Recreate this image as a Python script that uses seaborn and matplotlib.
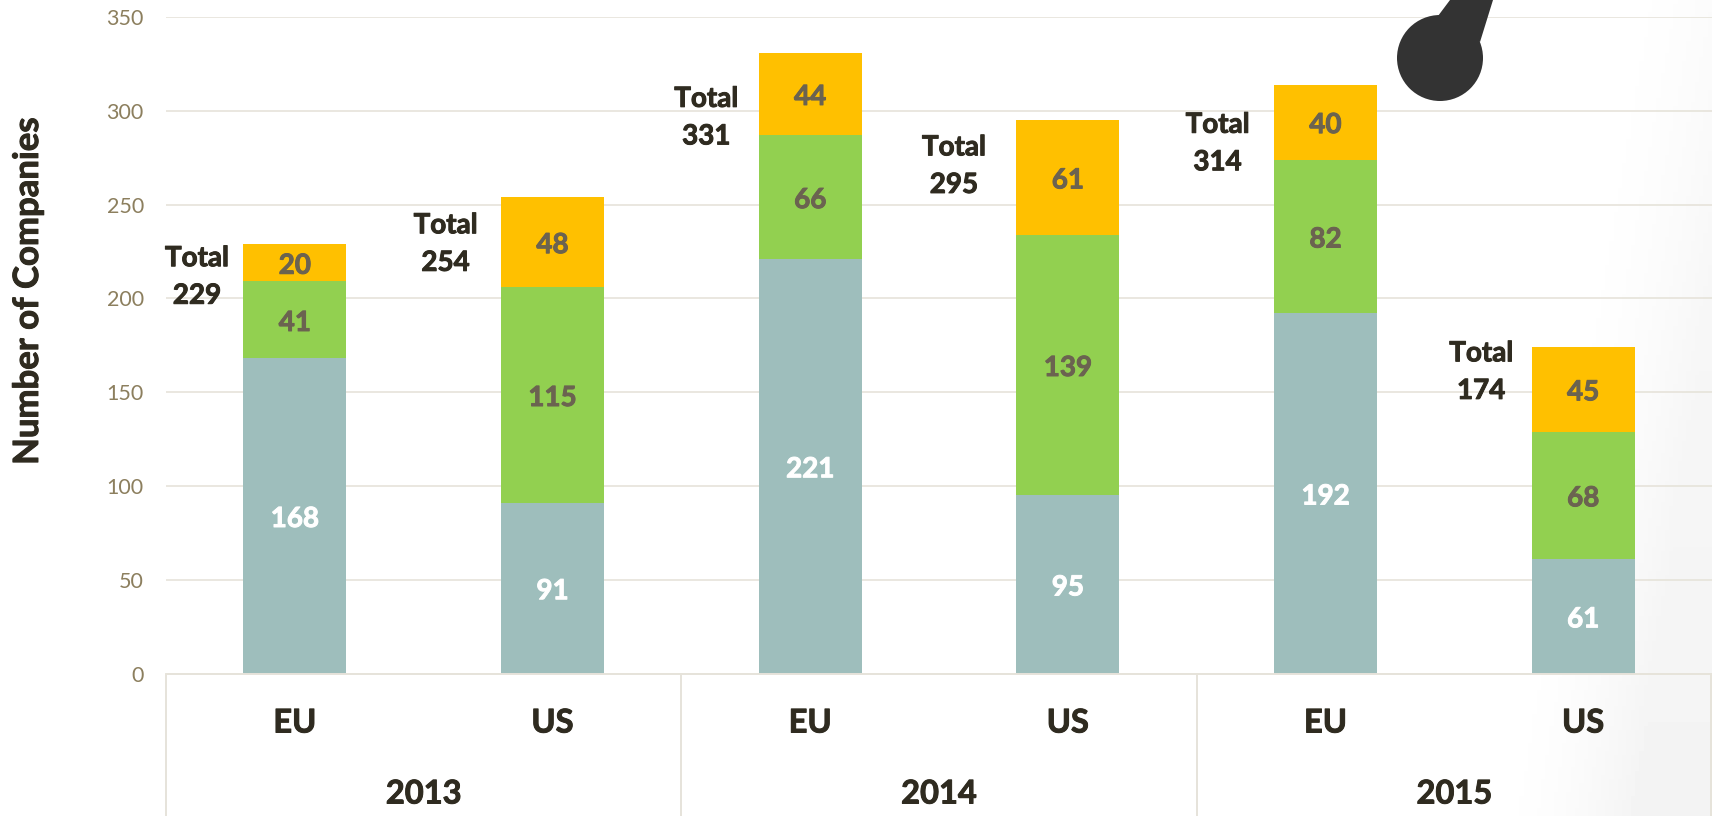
import numpy as np
import pandas as pd
import matplotlib
matplotlib.use("Agg")
import matplotlib.pyplot as plt
import matplotlib.patheffects as pe
from matplotlib.patches import Circle, Polygon
from matplotlib.transforms import Affine2D
import seaborn as sns

# ---- data ----
years = ["2013", "2014", "2015"]
regions = ["EU", "US", "EU", "US", "EU", "US"]
group_ids = ["2013 EU", "2013 US", "2014 EU", "2014 US", "2015 EU", "2015 US"]
seg_bottom = [168, 91, 221, 95, 192, 61]
seg_middle = [41, 115, 66, 139, 82, 68]
seg_top = [20, 48, 44, 61, 40, 45]
totals = [229, 254, 331, 295, 314, 174]
y_ticks = [0, 50, 100, 150, 200, 250, 300, 350]

# ---- layout of the hand-placed "Total" boxes (offset from bar centre / top) ----
total_dx_px = [-98, -107, -104, -114, -108, -102]
total_dy_px = [33, 47, 65, 46, 59, 25]

W, H = 1712, 816
LEFT, TOP, BOTTOM = 166, 17, 673.5

C_TEAL, C_GREEN, C_GOLD = "#9EBEBC", "#92D050", "#FFC000"
C_GRID, C_TICK, C_DARK, C_MUTED = "#E6E3DA", "#8C7F5E", "#2F2B20", "#6B6350"

sns.set_theme(style="white")
plt.rcParams["font.family"] = ["Lato", "DejaVu Sans"]

fig = plt.figure(figsize=(W / 100, H / 100), dpi=100, facecolor="white")


def heavy(color, w=0.7):
    return [pe.withStroke(linewidth=w, foreground=color)]


# faint grey vignette at the right edge of the slide
bg = fig.add_axes([0, 0, 1, 1], zorder=0)
yy, xx = np.mgrid[0:1:200j, 0:1:400j]
shade = np.clip((xx - 0.935 + 0.07 * yy) / 0.09, 0, 1) ** 1.8 * (0.6 + 0.4 * yy)
bg.imshow(1 - 0.045 * shade, cmap="gray", vmin=0, vmax=1, aspect="auto", extent=(0, 1, 0, 1), origin="upper")
bg.axis("off")

ax = fig.add_axes([LEFT / W, 1 - BOTTOM / H, (W - LEFT) / W, (BOTTOM - TOP) / H], zorder=1)
ax.patch.set_alpha(0)

df = pd.DataFrame({"group": group_ids, "low": seg_bottom, "mid": seg_middle, "top": seg_top})
df["b_mid"] = df["low"]
df["b_top"] = df["low"] + df["mid"]

bar_kw = dict(data=df, x="group", saturation=1, width=0.4, ax=ax, zorder=3, linewidth=0, edgecolor="none")
sns.barplot(y="low", color=C_TEAL, **bar_kw)
sns.barplot(y="mid", bottom=df["b_mid"].to_numpy(), color=C_GREEN, **bar_kw)
sns.barplot(y="top", bottom=df["b_top"].to_numpy(), color=C_GOLD, **bar_kw)

ax.set_xlim(-0.5, 5.5)
ax.set_ylim(0, 350)
ax.set_yticks(y_ticks)
ax.set_xticks([])
ax.set_xlabel("")
ax.set_ylabel("")
ax.tick_params(axis="y", length=0, pad=16, labelsize=15.5, labelcolor=C_TICK)
ax.yaxis.grid(True, color=C_GRID, linewidth=1.2, zorder=0)
ax.set_axisbelow(True)
for s in ax.spines.values():
    s.set_visible(False)

# segment labels
lab_kw = dict(ha="center", va="center", fontsize=20, fontweight="bold", zorder=5)
nudge = dict(xytext=(0, -2.2), textcoords="offset points")
for i in range(6):
    ax.annotate(str(seg_bottom[i]), xy=(i, seg_bottom[i] / 2), color="white",
                path_effects=heavy("white"), **nudge, **lab_kw)
    ax.annotate(str(seg_middle[i]), xy=(i, seg_bottom[i] + seg_middle[i] / 2), color=C_MUTED,
                path_effects=heavy(C_MUTED), **nudge, **lab_kw)
    ax.annotate(str(seg_top[i]), xy=(i, seg_bottom[i] + seg_middle[i] + seg_top[i] / 2), color=C_MUTED,
                path_effects=heavy(C_MUTED), **nudge, **lab_kw)
    ax.annotate(f"Total\n{totals[i]}", xy=(i, totals[i]),
                xytext=(total_dx_px[i] * 0.72, -total_dy_px[i] * 0.72), textcoords="offset points",
                ha="center", va="center", fontsize=20, fontweight="bold", color=C_DARK,
                linespacing=1.55, zorder=5, path_effects=heavy(C_DARK))

# pixel-space overlay for multi-level axis and the gauge shape
px = Affine2D().scale(1 / W, -1 / H).translate(0, 1) + fig.transFigure
n = len(regions)
step = (W - LEFT) / n
fig.add_artist(plt.Line2D([LEFT, W], [BOTTOM, BOTTOM], transform=px, color=C_GRID, lw=1.4, zorder=2))
for k in range(len(years) + 1):
    xk = min(LEFT + k * 2 * step, W - 1)
    fig.add_artist(plt.Line2D([xk, xk], [BOTTOM, H], transform=px, color=C_GRID, lw=1.4, zorder=2))
for i, r in enumerate(regions):
    fig.text((LEFT + (i + 0.5) * step) / W, 1 - 723 / H, r, ha="center", va="center",
             fontsize=23.5, fontweight="bold", color=C_DARK, path_effects=heavy(C_DARK))
for k, y in enumerate(years):
    fig.text((LEFT + (2 * k + 1) * step) / W, 1 - 794 / H, y, ha="center", va="center",
             fontsize=23.5, fontweight="bold", color=C_DARK, path_effects=heavy(C_DARK))
fig.text(28 / W, 1 - 291 / H, "Number of Companies", rotation=90, ha="center", va="center",
         fontsize=25, fontweight="bold", color=C_DARK, path_effects=heavy(C_DARK))

fig.add_artist(Circle((1440, 58), 43, transform=px, facecolor="#333333", edgecolor="none", zorder=6))
fig.add_artist(Polygon([(1438, 16), (1450, 0), (1493, 0), (1480, 42)], closed=True, transform=px,
                       facecolor="#333333", edgecolor="none", zorder=6))

fig.savefig("out.png", dpi=100, facecolor="white")
